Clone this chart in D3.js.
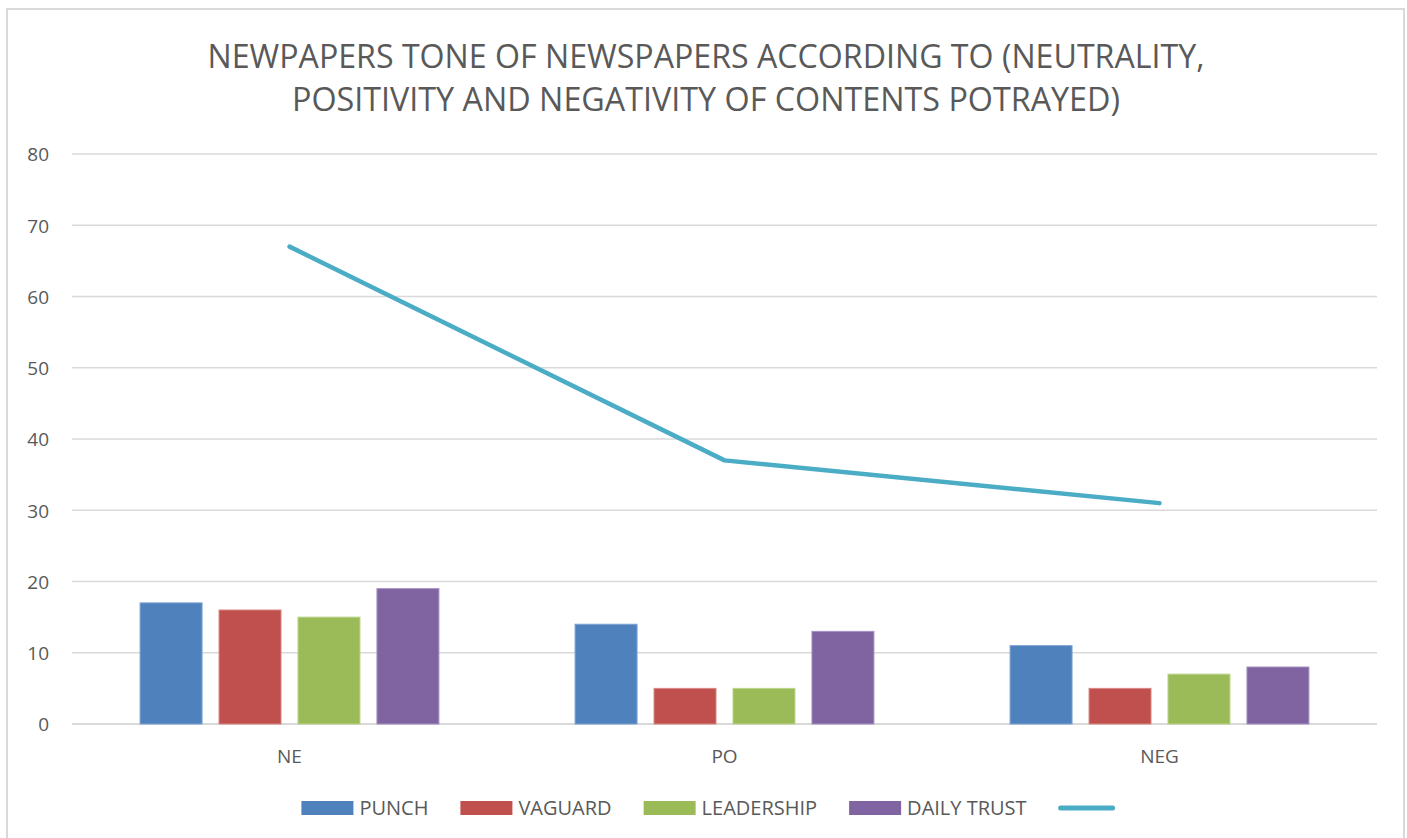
<!DOCTYPE html>
<html>
<head>
<meta charset="utf-8">
<script src="https://cdn.jsdelivr.net/npm/d3@7"></script>
<style>
  html, body { margin: 0; padding: 0; background: #fff; }
  svg { display: block; }
  text { font-family: "Open Sans", "Noto Sans", sans-serif; fill: #595959; }
</style>
</head>
<body>
<svg id="chart" width="1407" height="838"></svg>
<script>
// ---- data ----
const titleLines = [
  "NEWPAPERS TONE OF NEWSPAPERS ACCORDING TO (NEUTRALITY,",
  "POSITIVITY AND NEGATIVITY OF CONTENTS POTRAYED)"
];
const categories = ["NE", "PO", "NEG"];
const seriesNames = ["PUNCH", "VAGUARD", "LEADERSHIP", "DAILY TRUST"];
const punch = [17, 14, 11];
const vaguard = [16, 5, 5];
const leadership = [15, 5, 7];
const dailyTrust = [19, 13, 8];
const lineValues = [67, 37, 31];
const lineName = "";
const yTicks = [0, 10, 20, 30, 40, 50, 60, 70, 80];

const seriesValues = [punch, vaguard, leadership, dailyTrust];
const seriesColors = ["#4F81BD", "#C0504D", "#9BBB59", "#8064A2"];
const seriesStroke = ["#7da2d4", "#d88784", "#bad48a", "#a890c4"];
const lineColor = "#4BACC6";

// ---- layout ----
const svg = d3.select("#chart");
const plot = { left: 72, right: 1377, top: 154, bottom: 724 };

// outer chart border
svg.append("rect")
  .attr("x", 7).attr("y", 9)
  .attr("width", 1397).attr("height", 850)
  .attr("fill", "#fff")
  .attr("stroke", "#d9d9d9").attr("stroke-width", 2);

// title
const titleG = svg.append("g");
const titleLens = [997, 828];
titleLines.forEach((t, i) => {
  titleG.append("text")
    .attr("x", 706).attr("y", 68 + i * 43)
    .attr("text-anchor", "middle")
    .attr("font-size", 33)
    .attr("textLength", titleLens[i])
    .attr("lengthAdjust", "spacingAndGlyphs")
    .text(t);
});

// scales
const y = d3.scaleLinear().domain([0, 80]).range([plot.bottom, plot.top]);
const x0 = d3.scaleBand().domain(categories).range([plot.left, plot.right]).padding(0);
const groupW = x0.bandwidth() * 0.687;
const x1 = d3.scaleBand().domain(seriesNames).range([0, groupW]).paddingInner(0.215).paddingOuter(0);
const groupOffset = (x0.bandwidth() - groupW) / 2;

// gridlines
svg.append("g").selectAll("line")
  .data(yTicks)
  .join("line")
  .attr("x1", plot.left).attr("x2", plot.right)
  .attr("y1", d => y(d)).attr("y2", d => y(d))
  .attr("stroke", "#d9d9d9")
  .attr("stroke-width", d => d === 0 ? 2 : 1.5);

// y axis labels via d3 axis
const yAxis = d3.axisLeft(y).tickValues(yTicks).tickSize(0).tickPadding(0);
const yg = svg.append("g").attr("transform", `translate(49,0)`).call(yAxis);
yg.select(".domain").remove();
yg.selectAll("text")
  .attr("font-size", 19)
  .attr("fill", "#595959")
  .attr("font-family", "'Open Sans', sans-serif")
  .attr("dy", "0.36em");

// x axis labels
const xAxis = d3.axisBottom(x0).tickSize(0).tickPadding(0);
const xg = svg.append("g").attr("transform", `translate(0,${plot.bottom + 32})`).call(xAxis);
xg.select(".domain").remove();
xg.selectAll("text")
  .attr("font-size", 19)
  .attr("fill", "#595959")
  .attr("font-family", "'Open Sans', sans-serif")
  .attr("dy", "0.36em");

// bars
const barData = [];
categories.forEach((c, ci) => {
  seriesNames.forEach((s, si) => {
    barData.push({ c, s, si, v: seriesValues[si][ci] });
  });
});
svg.append("g").selectAll("rect")
  .data(barData)
  .join("rect")
  .attr("x", d => x0(d.c) + groupOffset + x1(d.s))
  .attr("y", d => y(d.v))
  .attr("width", x1.bandwidth())
  .attr("height", d => y(0) - y(d.v))
  .attr("fill", d => seriesColors[d.si])
  .attr("stroke", d => seriesStroke[d.si])
  .attr("stroke-width", 1);

// line
const line = d3.line()
  .x((d, i) => x0(categories[i]) + x0.bandwidth() / 2)
  .y(d => y(d));
svg.append("path")
  .datum(lineValues)
  .attr("d", line)
  .attr("fill", "none")
  .attr("stroke", lineColor)
  .attr("stroke-width", 4.5)
  .attr("stroke-linejoin", "round")
  .attr("stroke-linecap", "round");

// legend
const legendY = 808;
const swW = 52, swH = 14, swGap = 6, itemGap = 32;
const leg = svg.append("g");
let cx = 0;
seriesNames.forEach((s, i) => {
  const g = leg.append("g");
  g.append("rect").attr("x", cx).attr("y", legendY - swH / 2)
    .attr("width", swW).attr("height", swH).attr("fill", seriesColors[i]);
  const t = g.append("text").attr("x", cx + swW + swGap).attr("y", legendY)
    .attr("dy", "0.36em").attr("font-size", 20).text(s);
  const tw = t.node().getComputedTextLength();
  cx += swW + swGap + tw + itemGap;
});
leg.append("line")
  .attr("x1", cx + 2).attr("x2", cx + swW + 2)
  .attr("y1", legendY).attr("y2", legendY)
  .attr("stroke", lineColor).attr("stroke-width", 5)
  .attr("stroke-linecap", "round");
const totalW = cx + swW + 4;
leg.attr("transform", `translate(${708 - totalW / 2},0)`);
</script>
</body>
</html>
